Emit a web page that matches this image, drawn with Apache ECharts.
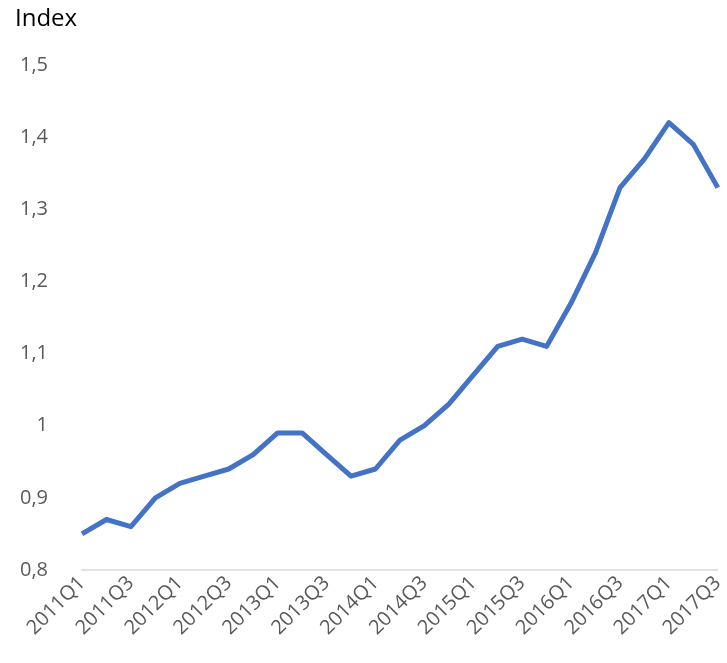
<!DOCTYPE html>
<html>
<head>
<meta charset="utf-8">
<script src="https://cdn.jsdelivr.net/npm/echarts@6/dist/echarts.min.js"></script>
<style>
  html, body { margin: 0; padding: 0; background: #fff; }
  #main { width: 727px; height: 663px; }
</style>
</head>
<body>
<div id="main"></div>
<script>
// quarters 2011Q1 .. 2017Q3
var quarters = [
  '2011Q1', '2011Q2', '2011Q3', '2011Q4',
  '2012Q1', '2012Q2', '2012Q3', '2012Q4',
  '2013Q1', '2013Q2', '2013Q3', '2013Q4',
  '2014Q1', '2014Q2', '2014Q3', '2014Q4',
  '2015Q1', '2015Q2', '2015Q3', '2015Q4',
  '2016Q1', '2016Q2', '2016Q3', '2016Q4',
  '2017Q1', '2017Q2', '2017Q3'
];
var indexValues = [
  0.85, 0.87, 0.86, 0.90,
  0.92, 0.93, 0.94, 0.96,
  0.99, 0.99, 0.96, 0.93,
  0.94, 0.98, 1.00, 1.03,
  1.07, 1.11, 1.12, 1.11,
  1.17, 1.24, 1.33, 1.37,
  1.42, 1.39, 1.33
];
var yTicks = [0.8, 0.9, 1.0, 1.1, 1.2, 1.3, 1.4, 1.5];

var chartDom = document.getElementById('main');
var myChart = echarts.init(chartDom, null, { renderer: 'canvas' });

var option = {
  backgroundColor: '#fff',
  animation: false,
  title: {
    text: 'Index',
    left: 10,
    top: 2,
    textStyle: { fontFamily: 'Open Sans', fontSize: 24, fontWeight: 'normal', color: '#000' }
  },
  grid: { left: 82, right: 0, top: 65, bottom: 93 },
  xAxis: {
    type: 'category',
    data: quarters,
    boundaryGap: false,
    axisLine: { lineStyle: { color: '#d9d9d9', width: 1.5 } },
    axisTick: { show: false },
    axisLabel: {
      interval: 1,
      rotate: 45,
      margin: 10,
      color: '#595959',
      fontFamily: 'Open Sans',
      fontSize: 20
    }
  },
  yAxis: {
    type: 'value',
    min: yTicks[0],
    max: yTicks[yTicks.length - 1],
    interval: 0.1,
    axisLine: { show: false },
    axisTick: { show: false },
    splitLine: { show: false },
    axisLabel: {
      margin: 34,
      color: '#595959',
      fontFamily: 'Open Sans',
      fontSize: 20,
      formatter: function (v) {
        return String(Math.round(v * 10) / 10).replace('.', ',');
      }
    }
  },
  series: [
    {
      type: 'line',
      data: indexValues,
      showSymbol: false,
      lineStyle: { color: '#4472C4', width: 5, join: 'round' },
      itemStyle: { color: '#4472C4' }
    }
  ]
};

myChart.setOption(option);
</script>
</body>
</html>
